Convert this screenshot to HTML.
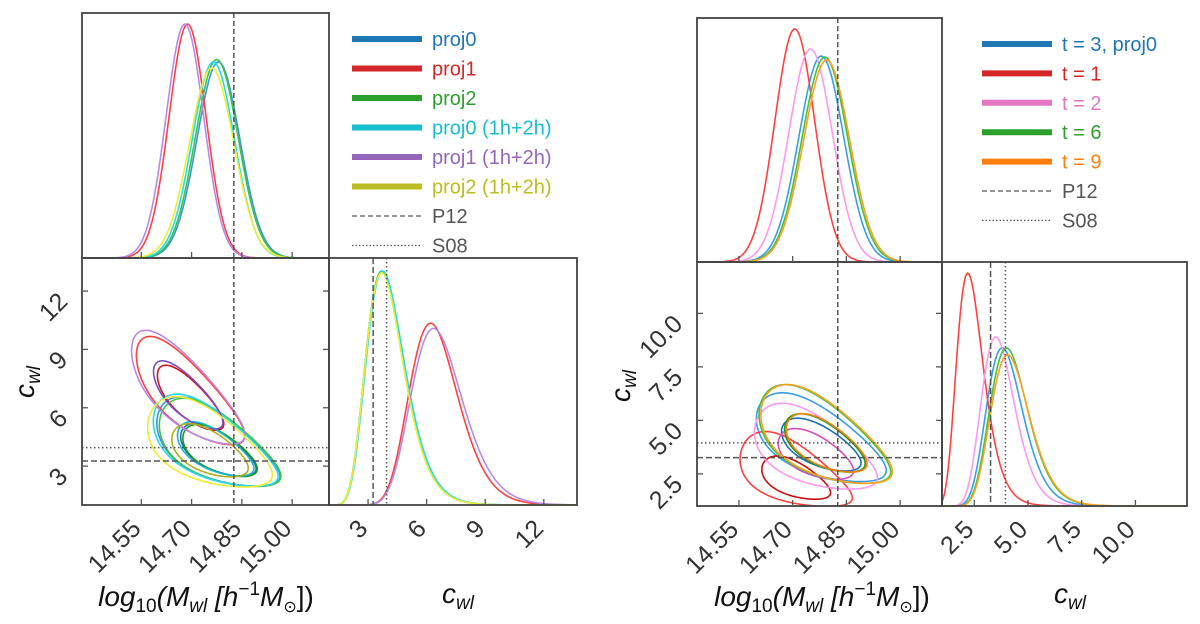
<!DOCTYPE html>
<html><head><meta charset="utf-8">
<style>
html,body{margin:0;padding:0;background:#fff;}
svg{display:block;font-family:"Liberation Sans","DejaVu Sans",sans-serif;}
</style></head>
<body>
<svg id="fig" xmlns="http://www.w3.org/2000/svg" width="1200" height="624" viewBox="0 0 1200 624">
  <defs>
    <clipPath id="clipL"><rect x="82" y="259" width="247" height="246"/></clipPath>
    <clipPath id="clipR"><rect x="697" y="262" width="245" height="244"/></clipPath>
  </defs>
  <g id="legendL"></g>
  <g id="legendR"></g>
  <text x="206" y="606" text-anchor="middle" font-size="28" font-style="italic" fill="#111">log<tspan font-size="19" dy="6" font-style="normal">10</tspan><tspan dy="-6">(M</tspan><tspan font-size="19" dy="6">wl</tspan><tspan dy="-6"> [h</tspan><tspan font-size="19" dy="-11" font-style="normal">−1</tspan><tspan dy="11">M</tspan><tspan font-size="16" dy="6" font-style="normal">⊙</tspan><tspan dy="-6" font-style="normal">])</tspan></text>
  <text x="458" y="603" text-anchor="middle" font-size="28" font-style="italic" fill="#111">c<tspan font-size="19" dy="6">wl</tspan></text>
  <text transform="translate(34,382) rotate(-90)" text-anchor="middle" font-size="28" font-style="italic" fill="#111">c<tspan font-size="19" dy="6">wl</tspan></text>
  <text x="822" y="606" text-anchor="middle" font-size="28" font-style="italic" fill="#111">log<tspan font-size="19" dy="6" font-style="normal">10</tspan><tspan dy="-6">(M</tspan><tspan font-size="19" dy="6">wl</tspan><tspan dy="-6"> [h</tspan><tspan font-size="19" dy="-11" font-style="normal">−1</tspan><tspan dy="11">M</tspan><tspan font-size="16" dy="6" font-style="normal">⊙</tspan><tspan dy="-6" font-style="normal">])</tspan></text>
  <text x="1070" y="603" text-anchor="middle" font-size="28" font-style="italic" fill="#111">c<tspan font-size="19" dy="6">wl</tspan></text>
  <text transform="translate(630,386) rotate(-90)" text-anchor="middle" font-size="28" font-style="italic" fill="#111">c<tspan font-size="19" dy="6">wl</tspan></text>
</svg>
<script>
// ---------- LEFT FIGURE DATA ----------
const seriesL = ["proj0","proj1","proj2","proj0 (1h+2h)","proj1 (1h+2h)","proj2 (1h+2h)"];
const legendColorsL = ["#1f77b4","#d62728","#2ca02c","#17becf","#9467bd","#bcbd22"];
const massMeanL = [14.78, 14.688, 14.775, 14.765, 14.68, 14.76];
const massSigL  = [0.064, 0.055, 0.064, 0.063, 0.056, 0.066];
const massPeakL = [0.80, 0.955, 0.81, 0.80, 0.955, 0.776];
const cModeL = [3.7, 6.2, 3.7, 3.75, 6.35, 3.7];
const cSigL  = [0.26, 0.2, 0.26, 0.26, 0.205, 0.26];
const cPeakL = [0.947, 0.736, 0.947, 0.947, 0.715, 0.94];
const contMassL = [14.78, 14.697, 14.785, 14.772, 14.69, 14.755];
const contMassSigL = [0.075, 0.066, 0.074, 0.076, 0.069, 0.076];
const contLogCL = [1.28, 1.84, 1.27, 1.29, 1.86, 1.27];
const contLogCSigL = [0.245, 0.175, 0.245, 0.25, 0.18, 0.25];
const contRhoL = [-0.62, -0.75, -0.6, -0.62, -0.75, -0.55];
const massTicksL = [14.55, 14.70, 14.85, 15.00];
const massTickLabelsL = ["14.55","14.70","14.85","15.00"];
const cTicksL = [3, 6, 9, 12];
const cTickLabelsL = ["3","6","9","12"];

// ---------- RIGHT FIGURE DATA ----------
const seriesR = ["t = 3, proj0","t = 1","t = 2","t = 6","t = 9"];
const legendColorsR = ["#1f77b4","#d62728","#e377c2","#2ca02c","#ff7f0e"];
const massMeanR = [14.78, 14.706, 14.75, 14.79, 14.795];
const massSigR  = [0.0627, 0.0555, 0.0607, 0.0636, 0.064];
const massPeakR = [0.844, 0.955, 0.873, 0.84, 0.828];
const cModeR = [3.8, 2.2, 3.5, 4.0, 4.05];
const cSigR  = [0.22, 0.28, 0.22, 0.22, 0.22];
const cPeakR = [0.648, 0.955, 0.693, 0.648, 0.619];
const contMassR = [14.78, 14.71, 14.765, 14.79, 14.795];
const contMassSigR = [0.074, 0.064, 0.07, 0.075, 0.075];
const contLogCR = [1.30, 0.74, 1.17, 1.31, 1.31];
const contLogCSigR = [0.22, 0.31, 0.24, 0.24, 0.24];
const contRhoR = [-0.6, -0.55, -0.55, -0.6, -0.6];
const massTicksR = [14.55, 14.70, 14.85, 15.00];
const massTickLabelsR = ["14.55","14.70","14.85","15.00"];
const cTicksR = [2.5, 5.0, 7.5, 10.0];
const cTickLabelsR = ["2.5","5.0","7.5","10.0"];

// reference values
const p12Mass = 14.826;
const p12C = 3.26;
const s08C = 3.95;

// ---------- drawing styles (not data) ----------
const outerColL = ["#3a96e0","#ff4040","#44c044","#22dcec","#b88ae8","#eeee30"];
const innerColL = ["#1f6fb4","#d01818","#1a9a1a","#17b8cf","#7a4cc0","#b0b020"];
const curveColL = ["#3a96e0","#ff4040","#44c044","#22dcec","#b88ae8","#eeee30"];
const outerColR = ["#3a9ee8","#ff4040","#ff99ee","#44c044","#ffa020"];
const innerColR = ["#1f6fb4","#c81010","#d050c0","#1a9a1a","#ff7f0e"];
const curveColR = ["#3a9ee8","#ff4040","#ff99ee","#44c044","#ffa020"];

const NS = "http://www.w3.org/2000/svg";
const svg = document.getElementById("fig");
function el(tag, attrs, parent){
  const e = document.createElementNS(NS, tag);
  for (const k in attrs) e.setAttribute(k, attrs[k]);
  (parent||svg).appendChild(e);
  return e;
}
function lin(d0,d1,r0,r1){ return v => r0 + (v-d0)/(d1-d0)*(r1-r0); }

function buildFigure(cfg){
  const g = el("g", {});
  
  
  const xm = lin(cfg.mRange[0], cfg.mRange[1], cfg.x0, cfg.x1);
  const yc = lin(cfg.cRange[0], cfg.cRange[1], cfg.yb, cfg.ym);
  const xc = lin(cfg.cRange[0], cfg.cRange[1], cfg.x1, cfg.x2);
  const topH = cfg.ym - cfg.yt;
  const botH = cfg.yb - cfg.ym;

  const gTop = el("g", {}, g);
  
  
  cfg.massMean.forEach((mu, i) => {
    const s = cfg.massSig[i];
    let d = "";
    for (let k = 0; k <= 200; k++){
      const m = cfg.mRange[0] + (cfg.mRange[1]-cfg.mRange[0])*k/200;
      const v = cfg.massPeak[i]*Math.exp(-0.5*((m-mu)/s)**2);
      d += (k?"L":"M") + xm(m).toFixed(2) + "," + (cfg.ym - v*topH).toFixed(2);
    }
    const p = el("path", {d:d, fill:"none", stroke:cfg.curveCol[i], "stroke-width":1.6}, gTop);
    
    
  });
  const vt = el("line", {x1:xm(p12Mass), x2:xm(p12Mass), y1:cfg.yt, y2:cfg.ym, stroke:"#555", "stroke-width":1.5, "stroke-dasharray":"5,3"}, gTop);
  
  

  const gC = el("g", {"clip-path":"url(#"+cfg.clip+")"}, g);
  
  
  const levels = [2.45, 1.5];
  cfg.contMass.forEach((cm, i) => {
    levels.forEach((kk, li) => {
      const rho = cfg.contRho[i];
      let d = "";
      for (let k = 0; k <= 120; k++){
        const t = 2*Math.PI*k/120;
        const u = kk*Math.cos(t);
        const v = kk*(rho*Math.cos(t) + Math.sqrt(1-rho*rho)*Math.sin(t));
        const m = cm + cfg.contMassSig[i]*u;
        const c = Math.exp(cfg.contLogC[i] + cfg.contLogCSig[i]*v);
        d += (k?"L":"M") + xm(m).toFixed(2) + "," + yc(c).toFixed(2);
      }
      const p = el("path", {d:d+"Z", fill:"none", stroke: li===0?cfg.outerCol[i]:cfg.innerCol[i], "stroke-width":1.6}, gC);
      
      
    });
  });
  const l1 = el("line", {x1:xm(p12Mass), x2:xm(p12Mass), y1:cfg.ym, y2:cfg.yb, stroke:"#555", "stroke-width":1.5, "stroke-dasharray":"5,3"}, g);
  
  
  const l2 = el("line", {x1:cfg.x0, x2:cfg.x1, y1:yc(p12C), y2:yc(p12C), stroke:"#555", "stroke-width":1.5, "stroke-dasharray":"6,3"}, g);
  
  
  const l3 = el("line", {x1:cfg.x0, x2:cfg.x1, y1:yc(s08C), y2:yc(s08C), stroke:"#555", "stroke-width":1.5, "stroke-dasharray":"1.5,2.5"}, g);
  
  

  const gR = el("g", {}, g);
  
  
  cfg.cMode.forEach((mode, i) => {
    const s = cfg.cSig[i];
    const mu = Math.log(mode) + s*s;
    const pdf = c => Math.exp(-0.5*((Math.log(c)-mu)/s)**2)/c;
    const pm = pdf(mode);
    let d = "";
    for (let k = 0; k <= 200; k++){
      const c = cfg.cRange[0] + (cfg.cRange[1]-cfg.cRange[0])*k/200;
      const v = cfg.cPeak[i]*pdf(c)/pm;
      d += (k?"L":"M") + xc(c).toFixed(2) + "," + (cfg.yb - v*botH).toFixed(2);
    }
    const p = el("path", {d:d, fill:"none", stroke:cfg.curveCol[i], "stroke-width":1.6}, gR);
    
    
  });
  const l4 = el("line", {x1:xc(p12C), x2:xc(p12C), y1:cfg.ym, y2:cfg.yb, stroke:"#555", "stroke-width":1.5, "stroke-dasharray":"6,3"}, gR);
  
  
  const l5 = el("line", {x1:xc(s08C), x2:xc(s08C), y1:cfg.ym, y2:cfg.yb, stroke:"#555", "stroke-width":1.5, "stroke-dasharray":"1.5,2.5"}, gR);
  
  

  [[cfg.x0,cfg.yt,cfg.x1-cfg.x0,topH,'top-frame'],[cfg.x0,cfg.ym,cfg.x1-cfg.x0,botH,'contour-frame'],[cfg.x1,cfg.ym,cfg.x2-cfg.x1,botH,'c-frame']].forEach(f => {
    const r = el("rect", {x:f[0], y:f[1], width:f[2], height:f[3], fill:"none", stroke:"#444", "stroke-width":1.8}, g);
    
    
  });

  const tk = {stroke:"#555", "stroke-width":1.3};
  cfg.massTicks.forEach((m, i) => {
    const x = xm(m);
    el("line", Object.assign({x1:x,x2:x,y1:cfg.ym,y2:cfg.ym-6}, tk), g);
    el("line", Object.assign({x1:x,x2:x,y1:cfg.yb,y2:cfg.yb-6}, tk), g);
    const t = el("text", {transform:"translate("+(x+1)+","+(cfg.yb+25)+") rotate(-45)", "text-anchor":"end", "font-size":25, fill:"#333"}, g);
    t.textContent = cfg.massTickLabels[i];
    
    
  });
  cfg.cTicks.forEach((c, i) => {
    const y = yc(c);
    el("line", Object.assign({x1:cfg.x0,x2:cfg.x0+6,y1:y,y2:y}, tk), g);
    el("line", Object.assign({x1:cfg.x1,x2:cfg.x1-6,y1:y,y2:y}, tk), g);
    const t = el("text", {transform:"translate("+(cfg.x0-13)+","+(y+12)+") rotate(-45)", "text-anchor":"end", "font-size":25, fill:"#333"}, g);
    t.textContent = cfg.cTickLabels[i];
    
    
    const x = xc(c);
    el("line", Object.assign({x1:x,x2:x,y1:cfg.yb,y2:cfg.yb-6}, tk), g);
    const t2 = el("text", {transform:"translate("+(x+1)+","+(cfg.yb+25)+") rotate(-45)", "text-anchor":"end", "font-size":25, fill:"#333"}, g);
    t2.textContent = cfg.cTickLabels[i];
    
    
  });

  const lg = document.getElementById(cfg.legend);
  const rows = cfg.series.map((s,i)=>({label:s, color:cfg.legendColors[i], type:"solid"}));
  rows.push({label:"P12", color:"#555", type:"dash"});
  rows.push({label:"S08", color:"#555", type:"dot"});
  rows.forEach((r, i) => {
    const y = cfg.legY + i*cfg.legDy;
    const ln = el("line", {x1:cfg.legX, x2:cfg.legX+70, y1:y, y2:y, stroke:r.color,
      "stroke-width": r.type==="solid"?6:1.3,
      "stroke-dasharray": r.type==="dash"?"5,3":(r.type==="dot"?"1.5,2":"none")}, lg);
    
    
    const t = el("text", {x:cfg.legX+80, y:y+7, "font-size":20, fill:r.color}, lg);
    t.textContent = r.label;
    
    
  });
}

buildFigure({name:"corner-plot-left", key:"L", x0:82, x1:329, x2:577, yt:13, ym:258, yb:505,
  mRange:[14.373,15.11], cRange:[1.0,13.7], clip:"clipL",
  massMean:massMeanL, massSig:massSigL, massPeak:massPeakL,
  cMode:cModeL, cSig:cSigL, cPeak:cPeakL,
  contMass:contMassL, contMassSig:contMassSigL, contLogC:contLogCL, contLogCSig:contLogCSigL, contRho:contRhoL,
  massTicks:massTicksL, massTickLabels:massTickLabelsL, cTicks:cTicksL, cTickLabels:cTickLabelsL,
  curveCol:curveColL, outerCol:outerColL, innerCol:innerColL,
  series:seriesL, legendColors:legendColorsL, legend:"legendL", legX:352, legY:39, legDy:29.5});

buildFigure({name:"corner-plot-right", key:"R", x0:697, x1:942, x2:1187, yt:18, ym:262, yb:506,
  mRange:[14.433,15.117], cRange:[1.0,12.4], clip:"clipR",
  massMean:massMeanR, massSig:massSigR, massPeak:massPeakR,
  cMode:cModeR, cSig:cSigR, cPeak:cPeakR,
  contMass:contMassR, contMassSig:contMassSigR, contLogC:contLogCR, contLogCSig:contLogCSigR, contRho:contRhoR,
  massTicks:massTicksR, massTickLabels:massTickLabelsR, cTicks:cTicksR, cTickLabels:cTickLabelsR,
  curveCol:curveColR, outerCol:outerColR, innerCol:innerColR,
  series:seriesR, legendColors:legendColorsR, legend:"legendR", legX:982, legY:44, legDy:29.4});
</script>
</body></html>
